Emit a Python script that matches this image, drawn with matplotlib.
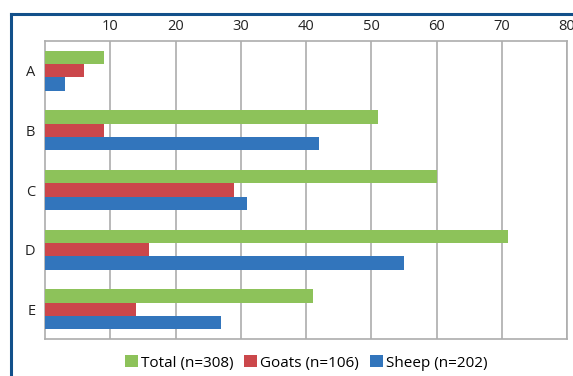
import numpy as np
import matplotlib
matplotlib.use("Agg")
import matplotlib.pyplot as plt
from matplotlib.lines import Line2D

plt.rcParams["font.family"] = ["Open Sans", "DejaVu Sans"]

categories = ["A", "B", "C", "D", "E"]
total = [9, 51, 60, 71, 41]
goats = [6, 9, 29, 16, 14]
sheep = [3, 42, 31, 55, 27]
series_labels = ["Total (n=308)", "Goats (n=106)", "Sheep (n=202)"]
colors = ["#8DC25A", "#CB474B", "#3275BC"]
xticks = [10, 20, 30, 40, 50, 60, 70, 80]

W, H = 573, 376
fig = plt.figure(figsize=(W / 100, H / 100), dpi=100)
ax = fig.add_axes([45 / W, 1 - 339 / H, (567 - 45) / W, (339 - 41) / H])

y = np.arange(len(categories))
bh = 0.224
for i, (vals, lab, col) in enumerate(zip([total, goats, sheep], series_labels, colors)):
    ax.barh(y + (i - 1) * bh, vals, height=bh, color=col, label=lab, zorder=3)

ax.set_xlim(0, 80)
ax.set_ylim(4.5, -0.5)
ax.set_yticks(y)
ax.set_yticklabels(categories, fontsize=10.5, color="#222222")
ax.set_xticks(xticks)
ax.set_xticklabels([str(t) for t in xticks], fontsize=10.5, color="#222222")
ax.xaxis.tick_top()
ax.tick_params(length=0, pad=5)
ax.tick_params(axis="y", pad=7)
ax.grid(axis="x", color="#ADADAD", linewidth=1.2, zorder=0)
for s in ax.spines.values():
    s.set_color("#ADADAD")
    s.set_linewidth(1.2)

ax.legend(loc="center", bbox_to_anchor=(0.5, -0.08), ncol=3, frameon=False,
          fontsize=11, handlelength=0.85, handleheight=0.85, handletextpad=0.2,
          columnspacing=0.7, borderaxespad=0)

# dark blue frame around the figure
fc = "#12508A"
fig.add_artist(Line2D([11 / W, 11 / W], [0, 1 - 14 / H], color=fc, linewidth=2.2,
                      transform=fig.transFigure))
fig.add_artist(Line2D([11 / W, 1], [1 - 14 / H, 1 - 14 / H], color=fc, linewidth=2.2,
                      transform=fig.transFigure))

fig.savefig("out.png", dpi=100)
